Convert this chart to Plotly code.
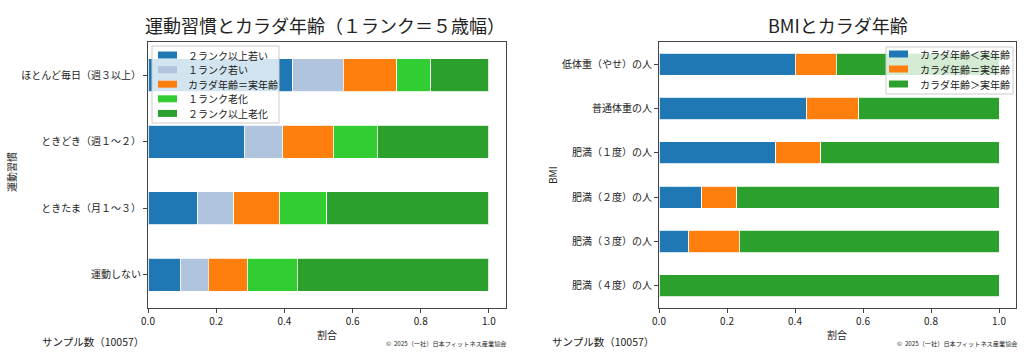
import plotly.graph_objects as go

FONT = "Noto Sans CJK JP"

# ---- Left chart data (exercise habits) ----
habit_categories = ["ほとんど毎日（週３以上）", "ときどき（週１～２）", "ときたま（月１～３）", "運動しない"]
habit_series = ["２ランク以上若い", "１ランク若い", "カラダ年齢＝実年齢", "１ランク老化", "２ランク以上老化"]
habit_colors = ["#1f77b4", "#b0c4de", "#ff7f0e", "#32cd32", "#2ca02c"]
habit_younger2 = [0.424, 0.282, 0.146, 0.095]
habit_younger1 = [0.148, 0.113, 0.106, 0.082]
habit_same = [0.158, 0.148, 0.133, 0.114]
habit_older1 = [0.099, 0.130, 0.139, 0.146]
habit_older2 = [0.171, 0.327, 0.476, 0.563]
habit_values = [habit_younger2, habit_younger1, habit_same, habit_older1, habit_older2]

# ---- Right chart data (BMI) ----
bmi_categories = ["低体重（やせ）の人", "普通体重の人", "肥満（１度）の人", "肥満（２度）の人", "肥満（３度）の人", "肥満（４度）の人"]
bmi_series = ["カラダ年齢＜実年齢", "カラダ年齢＝実年齢", "カラダ年齢＞実年齢"]
bmi_colors = ["#1f77b4", "#ff7f0e", "#2ca02c"]
bmi_younger = [0.401, 0.434, 0.343, 0.126, 0.087, 0.0]
bmi_same = [0.120, 0.153, 0.133, 0.102, 0.149, 0.0]
bmi_older = [0.479, 0.413, 0.524, 0.772, 0.764, 1.0]
bmi_values = [bmi_younger, bmi_same, bmi_older]

x_ticks = [0.0, 0.2, 0.4, 0.6, 0.8, 1.0]
x_tick_labels = ["0.0", "0.2", "0.4", "0.6", "0.8", "1.0"]

fig = go.Figure()

for name, vals, col in zip(habit_series, habit_values, habit_colors):
    fig.add_trace(go.Bar(
        y=habit_categories, x=vals, name=name, orientation="h",
        marker=dict(color=col, line=dict(color="rgba(255,255,255,0.8)", width=1)),
        width=0.5, xaxis="x", yaxis="y", showlegend=False,
    ))

for name, vals, col in zip(bmi_series, bmi_values, bmi_colors):
    fig.add_trace(go.Bar(
        y=bmi_categories, x=vals, name=name, orientation="h",
        marker=dict(color=col, line=dict(color="rgba(255,255,255,0.8)", width=1)),
        width=0.5, xaxis="x2", yaxis="y2", showlegend=False,
    ))

W, H = 1024, 364
def px(x):
    return x / W
def py(y):
    return 1 - y / H

axis_common = dict(
    showline=True, linecolor="#444", linewidth=1, mirror=True, automargin=False,
    ticks="outside", ticklen=4, tickcolor="#444", showgrid=False, zeroline=False,
    tickfont=dict(family=FONT, size=10, color="#222"),
)

fig.update_layout(
    width=W, height=H,
    margin=dict(l=0, r=0, t=0, b=0, autoexpand=False),
    paper_bgcolor="white", plot_bgcolor="white",
    barmode="stack",
    font=dict(family=FONT, color="#222"),
    xaxis=dict(domain=[px(148), px(506)], range=[0, 1.05], tickvals=x_ticks, ticktext=x_tick_labels,
               anchor="y", **axis_common),
    yaxis=dict(domain=[py(308), py(42)], anchor="x", categoryorder="array",
               categoryarray=habit_categories[::-1], range=[-0.5, 3.5], **axis_common),
    xaxis2=dict(domain=[px(659), px(1016)], range=[0, 1.05], tickvals=x_ticks, ticktext=x_tick_labels,
                anchor="y2", **axis_common),
    yaxis2=dict(domain=[py(308), py(42)], anchor="x2", categoryorder="array",
                categoryarray=bmi_categories[::-1], range=[-0.5, 5.5], **axis_common),
    showlegend=False,
)

# ---- legends (matplotlib-style boxes) ----
def add_legend(names, colors, box, first_y, step, patch_x, text_x):
    x0, y0, x1, y1 = box
    fig.add_shape(type="rect", xref="paper", yref="paper", layer="above",
                  x0=px(x0), x1=px(x1), y0=py(y1), y1=py(y0),
                  fillcolor="rgba(255,255,255,0.8)", line=dict(color="#cccccc", width=1))
    for i, (n, c) in enumerate(zip(names, colors)):
        yc = first_y + i * step
        fig.add_shape(type="rect", xref="paper", yref="paper", layer="above",
                      x0=px(patch_x), x1=px(patch_x + 19), y0=py(yc + 3.5), y1=py(yc - 3.5),
                      fillcolor=c, line=dict(width=0))
        fig.add_annotation(xref="paper", yref="paper", showarrow=False, xanchor="left", yanchor="middle",
                           x=px(text_x), y=py(yc), text=n, font=dict(family=FONT, size=10, color="#222"))

add_legend(habit_series, habit_colors, (152, 46, 279, 123), 55, 14.6, 158, 186)
add_legend(bmi_series, bmi_colors, (886, 47, 1013, 94), 54, 15, 889, 918)

ann = [
    dict(text="運動習慣とカラダ年齢（１ランク＝５歳幅）", x=px(325), y=py(25), font=dict(size=18, color="#222")),
    dict(text="BMIとカラダ年齢", x=px(838), y=py(25), font=dict(size=18, color="#222")),
    dict(text="割合", x=px(327), y=py(334), font=dict(size=10, color="#222")),
    dict(text="割合", x=px(837), y=py(334), font=dict(size=10, color="#222")),
    dict(text="運動習慣", x=px(11), y=py(172), textangle=-90, font=dict(size=10, color="#222")),
    dict(text="BMI", x=px(552), y=py(175), textangle=-90, font=dict(size=10, color="#222")),
    dict(text="サンプル数（10057）", x=px(93), y=py(341), font=dict(size=10.5, color="#222")),
    dict(text="サンプル数（10057）", x=px(603), y=py(341), font=dict(size=10.5, color="#222")),
    dict(text="©  2025（一社）日本フィットネス産業協会", x=px(446), y=py(343), font=dict(size=6.2, color="#222")),
    dict(text="©  2025（一社）日本フィットネス産業協会", x=px(957), y=py(343), font=dict(size=6.2, color="#222")),
]
for a in ann:
    fig.add_annotation(xref="paper", yref="paper", showarrow=False, xanchor="center", yanchor="middle",
                       font_family=FONT, **{k: v for k, v in a.items()})

fig.write_html("out.html", config={"displayModeBar": False},
               post_script="document.body.style.margin='0px';document.body.style.overflow='hidden';")
